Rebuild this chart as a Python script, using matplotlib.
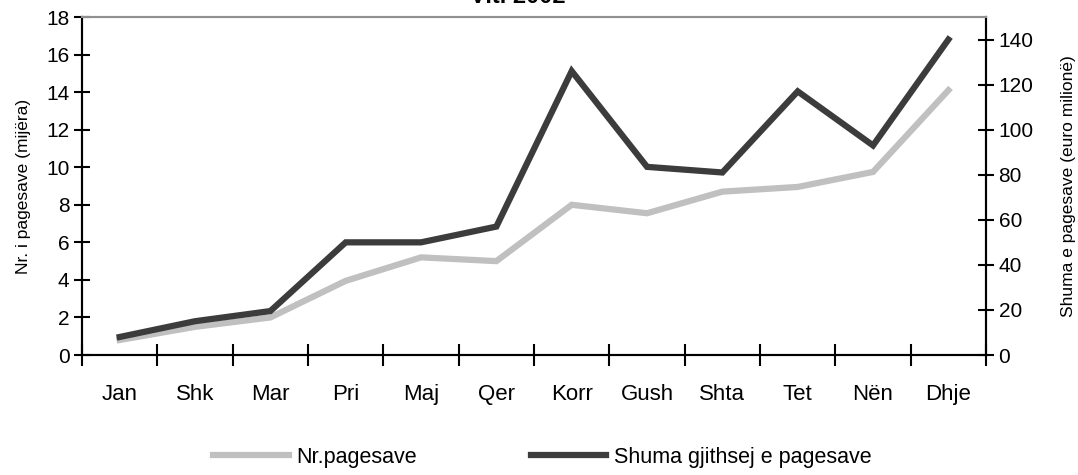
#!/usr/bin/env python3
"""
Monthly payments 2002: count (thousands) and total amount (million euro).
"""

import matplotlib.pyplot as plt

plt.rcParams["font.family"] = ["Liberation Sans", "DejaVu Sans"]

months = ["Jan", "Shk", "Mar", "Pri", "Maj", "Qer",
          "Korr", "Gush", "Shta", "Tet", "Nën", "Dhje"]
# number of payments, thousands (left axis)
nr_pagesave = [0.8, 1.5, 2.0, 3.95, 5.2, 5.0, 8.0, 7.55, 8.7, 8.95, 9.75, 14.1]
# total amount, million euro (right axis)
shuma = [8, 15, 19.5, 50, 50, 57, 126, 83.5, 81, 117, 93, 140]

GRAY = "#c0c0c0"
DARK = "#3c3c3c"

fig = plt.figure(figsize=(10.78, 4.75), dpi=100)
ax = fig.add_axes([0.0761, 0.2526, 0.8386, 0.7116])
ax2 = ax.twinx()

x = list(range(len(months)))
l1, = ax.plot(x, nr_pagesave, color=GRAY, lw=4.5, solid_joinstyle="miter",
              label="Nr.pagesave")
l2, = ax2.plot(x, shuma, color=DARK, lw=4.5, solid_joinstyle="miter",
               label="Shuma gjithsej e pagesave")

ax.set_xlim(-0.5, len(months) - 0.5)
ax.set_ylim(0, 18)
ax.set_yticks(range(0, 19, 2))
ax2.set_ylim(0, 150)
ax2.set_yticks(range(0, 141, 20))

# category ticks sit between labels
ax.set_xticks([i - 0.5 for i in range(len(months) + 1)])
ax.set_xticklabels([])
ax.set_xticks(x, minor=True)
ax.set_xticklabels(months, minor=True, fontsize=16)
ax.tick_params(axis="x", which="minor", length=0, pad=21)
ax.tick_params(axis="x", which="major", direction="inout", length=16, width=1.5)
ax.tick_params(axis="y", direction="inout", length=12, width=1.5, labelsize=15, pad=3)
ax2.tick_params(axis="y", direction="inout", length=12, width=1.5, labelsize=15, pad=3)

for a in (ax, ax2):
    a.spines["top"].set_color("#909090")
    a.spines["top"].set_linewidth(1.5)
    for s in ("left", "right", "bottom"):
        a.spines[s].set_linewidth(1.5)
        a.spines[s].set_color("black")

ax.set_ylabel("Nr. i pagesave (mijëra)", fontsize=12.5, labelpad=11)
ax2.set_ylabel("Shuma e pagesave (euro milionë)", fontsize=12.5, labelpad=20)

fig.text(0.48, 0.994, "Viti 2002", ha="center", va="baseline",
         fontsize=17, fontweight="bold")

fig.legend([l1, l2], [l1.get_label(), l2.get_label()], loc="center",
           bbox_to_anchor=(0.503, 0.037), ncol=2, frameon=False, fontsize=15.5,
           handlelength=3.5, handletextpad=0.35, columnspacing=5.3)

fig.savefig("out.png", dpi=100)
